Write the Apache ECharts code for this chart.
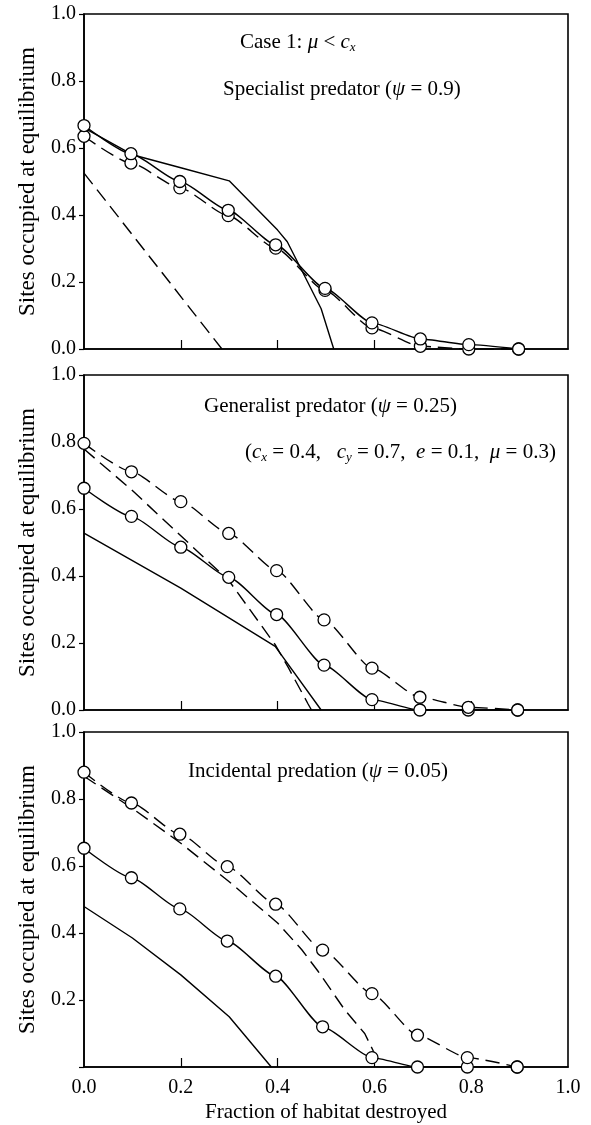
<!DOCTYPE html>
<html>
<head>
<meta charset="utf-8">
<script src="https://cdn.jsdelivr.net/npm/echarts@6/dist/echarts.min.js"></script>
<style>
  html, body { margin: 0; padding: 0; background: #fff; }
  #main { width: 591px; height: 1125px; }
</style>
</head>
<body>
<div id="main"></div>
<script>
var FONT = '"Liberation Serif", "Times New Roman", serif';

// x of the simulation points (circles), read per panel
var xs1 = [0, 0.097, 0.198, 0.298, 0.396, 0.498, 0.595, 0.695, 0.795, 0.898];
var xs2 = [0, 0.098, 0.2, 0.299, 0.398, 0.496, 0.595, 0.694, 0.794, 0.896];
var xs3 = [0, 0.098, 0.198, 0.296, 0.396, 0.493, 0.595, 0.689, 0.792, 0.895];

// panel 1 - specialist predator
var spSolidPts = [0.667, 0.583, 0.5, 0.414, 0.311, 0.181, 0.078, 0.03, 0.013, 0.0];
var spDashPts = [0.635, 0.555, 0.481, 0.398, 0.301, 0.175, 0.063, 0.008, 0.0, 0.0];
var spSolidLine = [[0, 0.66], [0.1, 0.58], [0.2, 0.541], [0.3, 0.502], [0.4, 0.355], [0.42, 0.32], [0.49, 0.12], [0.516, 0]];
var spDashLine = [[0, 0.525], [0.285, 0]];

// panel 2 - generalist predator
var genDashPts = [0.796, 0.711, 0.622, 0.527, 0.416, 0.269, 0.125, 0.038, 0.008, 0.0];
var genSolidPts = [0.662, 0.578, 0.486, 0.396, 0.285, 0.134, 0.031, 0.0, 0.0, 0.0];
var genSolidLine = [[0, 0.528], [0.2, 0.364], [0.395, 0.19], [0.49, 0]];
var genDashLine = [[0, 0.779], [0.1, 0.655], [0.2, 0.52], [0.3, 0.385], [0.395, 0.195], [0.422, 0.127], [0.463, 0.018], [0.47, 0]];

// panel 3 - incidental predation
var incDashPts = [0.88, 0.788, 0.695, 0.598, 0.486, 0.349, 0.219, 0.095, 0.028, 0.0];
var incSolidPts = [0.653, 0.565, 0.472, 0.376, 0.271, 0.12, 0.028, 0.0, 0.0, 0.0];
var incSolidLine = [[0, 0.479], [0.1, 0.385], [0.2, 0.275], [0.3, 0.15], [0.387, 0]];
var incDashLine = [[0, 0.868], [0.1, 0.772], [0.2, 0.668], [0.3, 0.553], [0.4, 0.43], [0.45, 0.35], [0.484, 0.285], [0.539, 0.17], [0.58, 0.1], [0.597, 0.05], [0.607, 0]];

var yTicks = [0, 0.2, 0.4, 0.6, 0.8, 1.0];
var xTicks = [0.2, 0.4, 0.6, 0.8];
var xLabels = [0, 0.2, 0.4, 0.6, 0.8, 1.0];

var gridTops = [14, 375, 732];

function pair(xs, ys) {
  return ys.map(function (y, i) { return [xs[i], y]; });
}

function curve(idx, data, dashed, withPts) {
  return {
    type: 'line',
    xAxisIndex: idx,
    yAxisIndex: idx,
    data: data,
    smooth: withPts ? 0.2 : false,
    smoothMonotone: 'x',
    symbol: withPts ? 'circle' : 'none',
    symbolSize: 12,
    showAllSymbol: true,
    itemStyle: { color: '#fff', borderColor: '#000', borderWidth: 1.3 },
    lineStyle: { color: '#000', width: 1.4, type: dashed ? [14, 7] : 'solid' },
    emphasis: { disabled: true },
    z: withPts ? 3 : 2
  };
}

var rich = {
  n: { fontFamily: FONT, fontSize: 21, fontWeight: 'normal', color: '#000', lineHeight: 24 },
  i: { fontFamily: FONT, fontSize: 21, fontWeight: 'normal', color: '#000', fontStyle: 'italic', lineHeight: 24 },
  s: { fontFamily: FONT, fontSize: 13, fontWeight: 'normal', color: '#000', fontStyle: 'italic', verticalAlign: 'bottom', lineHeight: 15 }
};

function note(text, left, top) {
  return { text: text, left: left, top: top, padding: 0, textStyle: { fontWeight: 'normal', rich: rich } };
}

var grids = [], xAxes = [], yAxes = [];
gridTops.forEach(function (top, k) {
  var last = k === 2;
  grids.push({
    left: 84, right: 23, top: top, height: 335,
    show: true, borderColor: '#000', borderWidth: 1.6
  });
  xAxes.push({
    type: 'value', gridIndex: k, min: 0, max: 1,
    axisLine: { lineStyle: { color: '#000', width: 1.6 } },
    axisTick: { show: true, inside: true, length: 9, customValues: xTicks, lineStyle: { color: '#000', width: 1.2 } },
    axisLabel: {
      show: last, customValues: xLabels, margin: 11,
      fontFamily: FONT, fontSize: 20, color: '#000',
      formatter: function (v) { return v.toFixed(1); }
    },
    splitLine: { show: false },
    name: last ? 'Fraction of habitat destroyed' : '',
    nameLocation: 'middle', nameGap: 35,
    nameTextStyle: { fontFamily: FONT, fontSize: 21, color: '#000' }
  });
  yAxes.push({
    type: 'value', gridIndex: k, min: 0, max: 1,
    axisLine: { show: true, lineStyle: { color: '#000', width: 1.6 } },
    axisTick: { show: true, inside: false, length: 5, customValues: yTicks, lineStyle: { color: '#000', width: 1.2 } },
    axisLabel: {
      customValues: last ? yTicks.slice(1) : yTicks, margin: 8,
      fontFamily: FONT, fontSize: 20, color: '#000',
      formatter: function (v) { return v.toFixed(1); }
    },
    splitLine: { show: false },
    name: 'Sites occupied at equilibrium',
    nameLocation: 'middle', nameGap: 45, nameRotate: 90,
    nameTextStyle: { fontFamily: FONT, fontSize: 23, color: '#000' }
  });
});

var option = {
  animation: false,
  backgroundColor: '#fff',
  title: [
    note('{n|Case 1: }{i|μ}{n| < }{i|c}{s|x}', 240, 30),
    note('{n|Specialist predator (}{i|ψ}{n| = 0.9)}', 223, 77),
    note('{n|Generalist predator (}{i|ψ}{n| = 0.25)}', 204, 394),
    note('{n|(}{i|c}{s|x}{n| = 0.4,   }{i|c}{s|y}{n| = 0.7,  }{i|e}{n| = 0.1,  }{i|μ}{n| = 0.3)}', 245, 440),
    note('{n|Incidental predation (}{i|ψ}{n| = 0.05)}', 188, 759)
  ],
  grid: grids,
  xAxis: xAxes,
  yAxis: yAxes,
  series: [
    curve(0, spSolidLine, false, false),
    curve(0, spDashLine, true, false),
    curve(0, pair(xs1, spDashPts), true, true),
    curve(0, pair(xs1, spSolidPts), false, true),

    curve(1, genSolidLine, false, false),
    curve(1, genDashLine, true, false),
    curve(1, pair(xs2, genSolidPts), false, true),
    curve(1, pair(xs2, genDashPts), true, true),

    curve(2, incSolidLine, false, false),
    curve(2, incDashLine, true, false),
    curve(2, pair(xs3, incSolidPts), false, true),
    curve(2, pair(xs3, incDashPts), true, true)
  ]
};

var chart = echarts.init(document.getElementById('main'));
chart.setOption(option);
</script>
</body>
</html>
